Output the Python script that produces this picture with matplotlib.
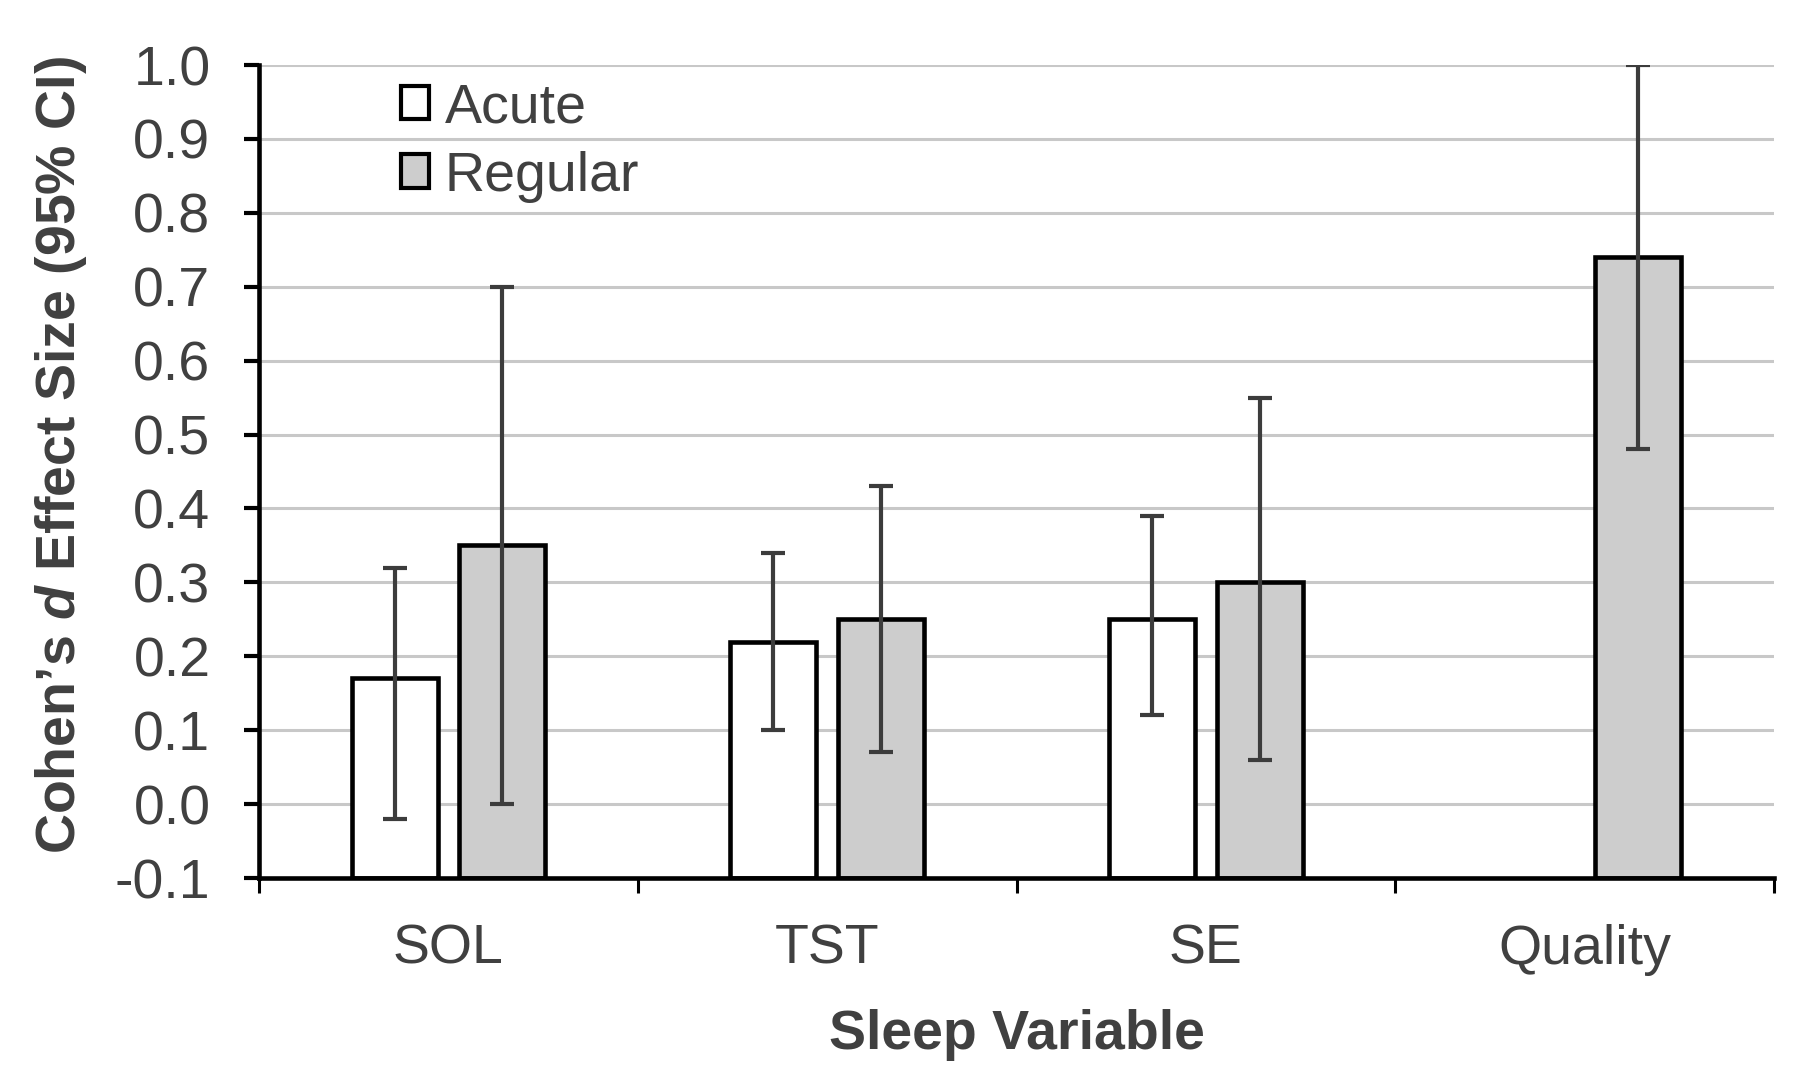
import numpy as np
import matplotlib
matplotlib.use("Agg")
import matplotlib.pyplot as plt
from matplotlib.patches import Patch

plt.rcParams['font.family'] = ['Liberation Sans', 'DejaVu Sans']
plt.rcParams['mathtext.fontset'] = 'custom'
plt.rcParams['mathtext.it'] = 'Liberation Sans:italic:bold'
plt.rcParams['axes.unicode_minus'] = False

# data
categories = ["SOL", "TST", "SE", "Quality"]
acute = [0.17, 0.22, 0.25, np.nan]
acute_lo = [-0.02, 0.10, 0.12, np.nan]
acute_hi = [0.32, 0.34, 0.39, np.nan]
regular = [0.35, 0.25, 0.30, 0.74]
regular_lo = [0.00, 0.07, 0.06, 0.48]
regular_hi = [0.70, 0.43, 0.55, 1.00]
y_ticks = [-0.1, 0.0, 0.1, 0.2, 0.3, 0.4, 0.5, 0.6, 0.7, 0.8, 0.9, 1.0]

TXT = "#404040"
base = y_ticks[0]
x = np.arange(len(categories))
w = 0.227
off = 0.142

fig = plt.figure(figsize=(18, 10.84), dpi=100)
ax = fig.add_axes([0.1439, 0.190, 0.8417, 0.750])

def draw(xpos, vals, lo, hi, face):
    vals = np.asarray(vals, float); lo = np.asarray(lo, float); hi = np.asarray(hi, float)
    m = ~np.isnan(vals)
    ax.bar(xpos[m], vals[m] - base, bottom=base, width=w, color=face,
           edgecolor="black", linewidth=3.3, zorder=2)
    ax.errorbar(xpos[m], vals[m], yerr=[vals[m] - lo[m], hi[m] - vals[m]],
                fmt="none", ecolor="#3c3c3c", elinewidth=3.0, capsize=8.4,
                capthick=3.0, zorder=3)

draw(x - off, acute, acute_lo, acute_hi, "white")
draw(x + off, regular, regular_lo, regular_hi, "#cdcdcd")

ax.set_xlim(-0.5, len(categories) - 0.5)
ax.set_ylim(y_ticks[0], y_ticks[-1])
ax.set_yticks(y_ticks)
ax.set_yticklabels([f"{t:.1f}" for t in y_ticks])
ax.set_xticks(x)
ax.set_xticklabels(categories)
ax.set_xticks(np.arange(len(categories) + 1) - 0.5, minor=True)

ax.yaxis.grid(True, color="#c8c8c8", linewidth=2.2)
ax.set_axisbelow(True)
for s in ["top", "right"]:
    ax.spines[s].set_visible(False)
for s in ["left", "bottom"]:
    ax.spines[s].set_linewidth(3.3)
    ax.spines[s].set_color("black")

ax.tick_params(axis="y", which="major", length=11, width=3, pad=24,
               labelsize=40, labelcolor=TXT, color="black")
ax.tick_params(axis="x", which="major", length=0, pad=33,
               labelsize=40, labelcolor=TXT)
ax.tick_params(axis="x", which="minor", length=11, width=2.2, color="black")

ax.set_ylabel(r"Cohen’s $\mathit{d}$ Effect Size (95% CI)", fontsize=40,
              fontweight="bold", color=TXT)
ax.yaxis.set_label_coords(-0.112, 0.52)
ax.set_xlabel("Sleep Variable", fontsize=40, fontweight="bold", color=TXT)
ax.xaxis.set_label_coords(0.5, -0.161)

handles = [Patch(facecolor="white", edgecolor="black", linewidth=3),
           Patch(facecolor="#cdcdcd", edgecolor="black", linewidth=3)]
leg = ax.legend(handles, ["Acute", "Regular"], loc="upper left",
                bbox_to_anchor=(0.094, 0.979), frameon=False, fontsize=40,
                handlelength=0.5, handleheight=0.55, handletextpad=0.28,
                labelspacing=0.3, borderpad=0, borderaxespad=0)
for t in leg.get_texts():
    t.set_color(TXT)

fig.savefig("out.png", dpi=100, facecolor="white")
